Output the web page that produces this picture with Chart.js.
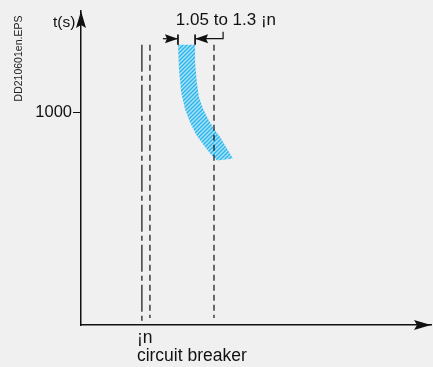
<!DOCTYPE html>
<html><head><meta charset="utf-8">
<script src="https://cdn.jsdelivr.net/npm/chart.js@4"></script>
<style>html,body{margin:0;padding:0;background:#f0f0f0;}#wrap{width:433px;height:367px;}</style>
</head><body><div id="wrap"><canvas id="c" width="433" height="367"></canvas></div>
<script>
// ---- data (schematic units: x = current, y = time in s) ----
const yTicks = [1000];
const yTickLabels = ['1000'];
const xTicks = [17.4];
const xTickLabels = [['¡n', 'circuit breaker']];
const inLine   = [{x:17.4, y:1321}, {x:17.4, y:0}];
const lowLine  = [{x:19.7, y:1321}, {x:19.7, y:33}];
const highLine = [{x:38.0, y:1321}, {x:38.0, y:33}];
const bandLeft  = [[27.7,1321],[28.0,1205],[28.6,1097],[29.7,1018],[31.1,957],[32.9,896],[34.9,850],[36.9,808],[38.9,775]];
const bandRight = [[43.4,784],[41.4,840],[39.7,887],[38.0,924],[36.3,971],[34.9,1018],[33.7,1074],[33.1,1144],[32.6,1237],[32.6,1321]];
const dimTickL  = [{x:27.7, y:1368}, {x:27.7, y:1321}];
const dimTickR  = [{x:32.6, y:1368}, {x:32.6, y:1321}];
const dimArrowL = [{x:23.4, y:1349}, {x:27.5, y:1349}];
const dimArrowR = [{x:32.8, y:1349}, {x:40.6, y:1349}, {x:40.6, y:1382}];
const dimLabel = '1.05 to 1.3 ¡n';
const yTitle = 't(s)';
const sideNote = 'DD210601en.EPS';

// ---- hatch pattern ----
function hatch(){
  const c = document.createElement('canvas'); c.width = 4; c.height = 4;
  const g = c.getContext('2d');
  g.fillStyle = '#a9e4f8'; g.fillRect(0,0,4,4);
  g.strokeStyle = '#2db3ea'; g.lineWidth = 1.4;
  g.beginPath();
  g.moveTo(-1,5); g.lineTo(5,-1);
  g.moveTo(-1,1); g.lineTo(1,-1);
  g.moveTo(3,5); g.lineTo(5,3);
  g.stroke();
  return g.createPattern(c, 'repeat');
}
const bandPoints = bandLeft.concat(bandRight).concat([bandLeft[0]]).map(p => ({x:p[0], y:p[1]}));

const ink = '#111';
const lineDs = (data, dash, w) => ({data, borderColor: ink, borderWidth: w || 1.2, borderDash: dash || [], pointRadius: 0, fill: false, tension: 0});

const deco = {
  id: 'deco',
  afterDatasetsDraw(chart){
    const ctx = chart.ctx, xs = chart.scales.x, ys = chart.scales.y;
    const X = v => xs.getPixelForValue(v), Y = v => ys.getPixelForValue(v);
    ctx.save();
    ctx.fillStyle = ink;
    // axis arrows
    const ax = xs.left, top = ys.top, right = xs.right, ay = ys.bottom;
    ctx.beginPath();
    ctx.moveTo(ax, top); ctx.lineTo(ax-5, top+17); ctx.lineTo(ax, top+14); ctx.lineTo(ax+5, top+17); ctx.closePath(); ctx.fill();
    ctx.beginPath();
    ctx.moveTo(right, ay); ctx.lineTo(right-17, ay-5); ctx.lineTo(right-14, ay); ctx.lineTo(right-17, ay+5); ctx.closePath(); ctx.fill();
    // dimension arrowheads
    const dy = Y(dimArrowL[0].y);
    const tl = X(bandLeft[0][0]), tr = X(bandRight[bandRight.length-1][0]);
    ctx.beginPath();
    ctx.moveTo(tl, dy); ctx.lineTo(tl-13, dy-4.5); ctx.lineTo(tl-11, dy); ctx.lineTo(tl-13, dy+4.5); ctx.closePath(); ctx.fill();
    ctx.beginPath();
    ctx.moveTo(tr, dy); ctx.lineTo(tr+13, dy-4.5); ctx.lineTo(tr+11, dy); ctx.lineTo(tr+13, dy+4.5); ctx.closePath(); ctx.fill();
    // texts
    ctx.fillStyle = ink;
    ctx.textAlign = 'left'; ctx.textBaseline = 'alphabetic';
    ctx.font = '17px "Liberation Sans", Arial, sans-serif';
    ctx.fillText(dimLabel, X(27.1), Y(1415));
    ctx.font = '15.5px "Liberation Sans", Arial, sans-serif';
    ctx.fillText(yTitle, ax - 28, top + 16);
    ctx.save();
    ctx.translate(19, 58.5); ctx.rotate(-Math.PI/2);
    ctx.textAlign = 'center'; ctx.textBaseline = 'middle';
    ctx.font = '10.5px "Liberation Sans", Arial, sans-serif';
    ctx.fillStyle = '#222';
    ctx.fillText(sideNote, 0, 0);
    ctx.restore();
    ctx.restore();
  }
};

new Chart(document.getElementById('c'), {
  type: 'line',
  data: { datasets: [
    lineDs(inLine, [27,4,5,4], 1.2),
    lineDs(lowLine, [6,4], 1.2),
    lineDs(highLine, [6,4], 1.2),
    lineDs(dimTickL, [], 1),
    lineDs(dimTickR, [], 1),
    lineDs(dimArrowL, [], 1.2),
    lineDs(dimArrowR, [], 1.2),
    {data: bandPoints, borderWidth: 0, borderColor: 'rgba(0,0,0,0)', backgroundColor: hatch(), fill: 'shape', pointRadius: 0, tension: 0}
  ]},
  options: {
    responsive: false, animation: false,
    layout: {padding: {top: 8, right: 2, left: 0, bottom: 0}},
    plugins: {legend: {display: false}, tooltip: {enabled: false}},
    scales: {
      x: {
        type: 'linear', min: 0, max: 100,
        grid: {display: false, drawTicks: false},
        border: {display: true, color: ink, width: 1.5},
        afterBuildTicks: s => { s.ticks = xTicks.map(v => ({value: v})); },
        afterFit: s => { s.height = 42; },
        ticks: {
          callback: (v, i) => xTickLabels[i],
          align: 'start', labelOffset: -5, padding: 4, autoSkip: false, maxRotation: 0,
          color: ink, font: {family: '"Liberation Sans", Arial, sans-serif', size: 17.5, lineHeight: 1.03}
        }
      },
      y: {
        type: 'linear', min: 0, max: 1480,
        grid: {drawOnChartArea: false, drawTicks: true, tickLength: 8, color: ink, lineWidth: 1},
        border: {display: true, color: ink, width: 1.5},
        afterBuildTicks: s => { s.ticks = yTicks.map(v => ({value: v})); },
        afterFit: s => { s.width = 81; },
        ticks: {
          callback: (v, i) => yTickLabels[i],
          padding: 1, color: ink,
          font: {family: '"Liberation Sans", Arial, sans-serif', size: 16.5}
        }
      }
    }
  },
  plugins: [deco]
});
</script>
</body></html>
